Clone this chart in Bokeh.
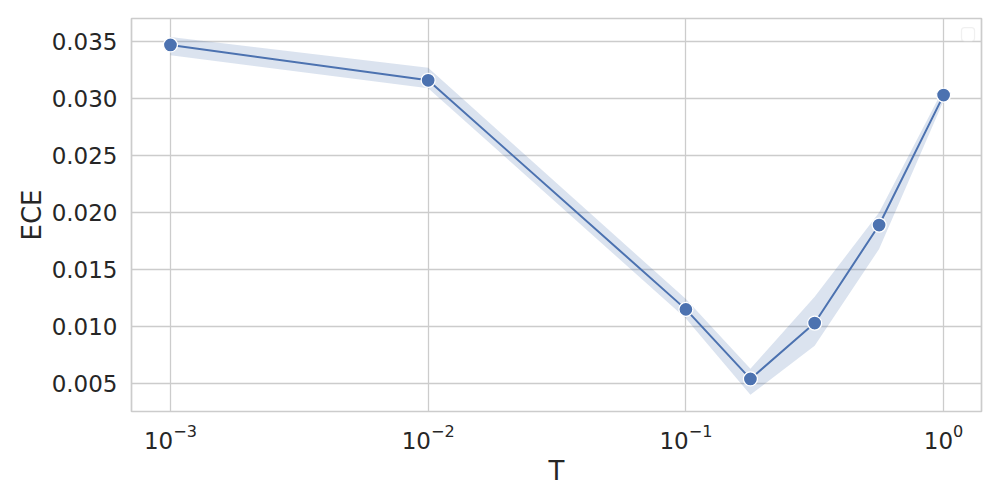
import math
from bokeh.plotting import figure
from bokeh.models import Range1d, FixedTicker, PrintfTickFormatter, BoxAnnotation, LogTicker
from bokeh.embed import file_html
from bokeh.resources import INLINE

T = [0.001, 0.01, 0.1, 0.178, 0.316, 0.562, 1.0]
ece = [0.0347, 0.0316, 0.0115, 0.0054, 0.0103, 0.0189, 0.0303]
ece_lower = [0.0338, 0.0309, 0.0107, 0.0040, 0.0083, 0.0168, 0.0298]
ece_upper = [0.0354, 0.0327, 0.0124, 0.0063, 0.0126, 0.0200, 0.0309]
y_ticks = [0.005, 0.010, 0.015, 0.020, 0.025, 0.030, 0.035]
x_lim = [0.000706, 1.403]
y_lim = [0.00254, 0.03702]

BLUE = "#4c72b0"
GRID = "#cccccc"
TEXT = "#262626"
FONT = "DejaVu Sans"

p = figure(frame_width=850, frame_height=393, x_axis_type="log",
           x_range=Range1d(*x_lim), y_range=Range1d(*y_lim),
           output_backend="svg", toolbar_location=None,
           min_border_left=131, min_border_right=3, min_border_top=18, min_border_bottom=66)

p.background_fill_color = "white"
p.border_fill_color = "white"
p.outline_line_color = GRID
p.outline_line_width = 1.7

p.varea(x=T, y1=ece_lower, y2=ece_upper, fill_color=BLUE, fill_alpha=0.2)
p.line(T, ece, line_color=BLUE, line_width=2)
p.scatter(T, ece, size=14, fill_color=BLUE, line_color="white", line_width=1.3)

p.xaxis.ticker = LogTicker(num_minor_ticks=0)
p.yaxis.ticker = FixedTicker(ticks=y_ticks)
p.yaxis.formatter = PrintfTickFormatter(format="%.3f")

for ax in (p.xaxis, p.yaxis):
    ax.axis_line_color = None
    ax.major_tick_line_color = None
    ax.minor_tick_line_color = None
    ax.major_label_text_font = FONT
    ax.major_label_text_font_size = "23px"
    ax.major_label_text_color = TEXT
    ax.axis_label_text_font = FONT
    ax.axis_label_text_font_size = "26px"
    ax.axis_label_text_font_style = "normal"
    ax.axis_label_text_color = TEXT

p.xaxis.axis_label = "T"
p.yaxis.axis_label = "ECE"
p.yaxis.major_label_standoff = 8
p.xaxis.major_label_standoff = 6
p.xaxis.axis_label_standoff = 4
p.yaxis.axis_label_standoff = 2

p.xgrid.grid_line_color = GRID
p.ygrid.grid_line_color = GRID
p.xgrid.grid_line_width = 1.3
p.ygrid.grid_line_width = 1.3

# empty legend frame in the upper-right corner (fractions of the axes)
lx0, lx1 = math.log10(x_lim[0]), math.log10(x_lim[1])
def fx(f):
    return 10 ** (lx0 + f * (lx1 - lx0))
def fy(f):
    return y_lim[0] + f * (y_lim[1] - y_lim[0])

legend_box = BoxAnnotation(left=fx(0.9765), right=fx(0.9918), top=fy(0.977), bottom=fy(0.942),
                           fill_color="white", fill_alpha=0.8,
                           line_color=GRID, line_width=1.2, border_radius=3)
p.add_layout(legend_box)

open("out.html", "w").write(file_html(p, INLINE))
